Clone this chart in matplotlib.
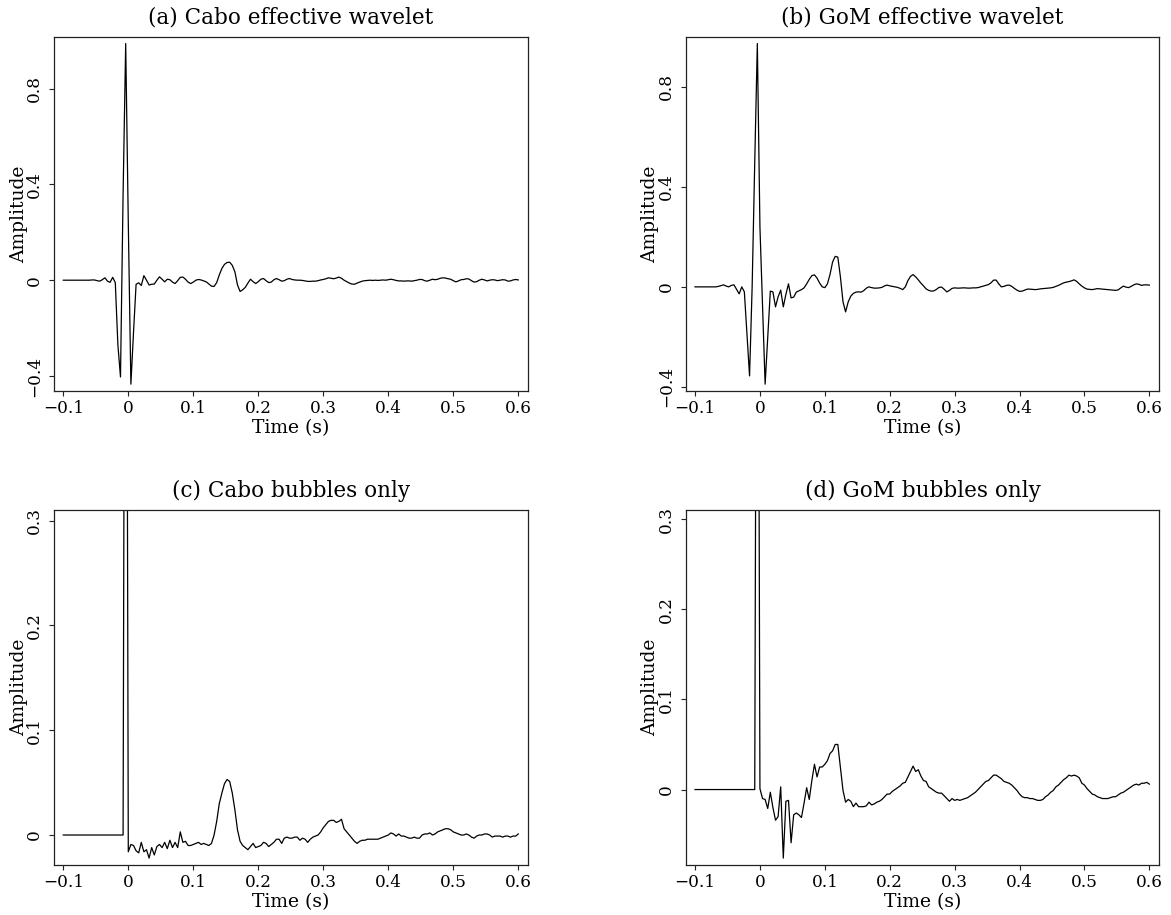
import numpy as np
import matplotlib
matplotlib.use('Agg')
import matplotlib.pyplot as plt
from matplotlib.ticker import FixedLocator, FuncFormatter

# time axis: 4 ms samples from -0.1 s to 0.6 s (176 samples)
time = np.round(np.arange(176) * 0.004 - 0.1, 3)

cabo_wavelet = [
    0.0, 0.0, 0.0, 0.0, 0.0, 0.0, 0.0, 0.0, 0.0, 0.0,
    0.0, 0.001, 0.001, -0.002, -0.004, 0.002, 0.010, -0.004, -0.009, 0.012,
    -0.010, -0.270, -0.404, 0.360, 0.988, 0.240, -0.434, -0.220, -0.017, -0.011,
    -0.022, 0.019, 0.000, -0.020, -0.017, -0.016, 0.000, 0.014, 0.004, -0.007,
    0.004, 0.002, -0.008, -0.014, -0.002, 0.012, 0.013, 0.004, -0.008, -0.014,
    -0.008, 0.000, 0.003, 0.001, -0.003, -0.007, -0.016, -0.025, -0.026, -0.010,
    0.022, 0.049, 0.066, 0.074, 0.075, 0.062, 0.035, -0.020, -0.047, -0.040,
    -0.030, -0.012, 0.004, -0.006, -0.014, -0.006, 0.004, 0.007, -0.002, -0.010,
    -0.008, 0.002, 0.007, 0.002, -0.004, -0.002, 0.004, 0.007, 0.003, 0.001,
    0.000, 0.000, -0.001, -0.003, -0.005, -0.005, -0.004, -0.004, -0.002, 0.001,
    0.003, 0.006, 0.010, 0.008, 0.006, 0.009, 0.013, 0.008, 0.000, -0.006,
    -0.012, -0.016, -0.017, -0.012, -0.008, -0.004, -0.002, -0.001, 0.000, -0.001,
    0.000, -0.001, 0.000, 0.001, 0.000, 0.002, 0.004, 0.002, -0.001, -0.003,
    -0.003, -0.004, -0.003, -0.003, -0.004, -0.002, 0.000, 0.003, 0.003, -0.002,
    -0.004, 0.000, 0.004, 0.002, 0.004, 0.008, 0.010, 0.009, 0.006, 0.004,
    -0.002, -0.007, -0.003, 0.002, 0.003, 0.006, 0.005, -0.002, -0.008, -0.006,
    0.000, 0.004, 0.001, -0.003, 0.000, 0.002, 0.001, -0.002, 0.000, 0.002,
    0.001, -0.004, -0.003, 0.001, 0.003, 0.001,
]

gom_wavelet = [
    0.0, 0.0, 0.0, 0.0, 0.0, 0.0, 0.0, 0.0, 0.0, 0.002,
    0.005, 0.008, 0.003, 0.000, 0.006, 0.008, -0.010, -0.028, 0.000, -0.020,
    -0.190, -0.356, 0.000, 0.500, 0.973, 0.240, -0.070, -0.389, -0.200, -0.017,
    -0.020, -0.080, -0.040, -0.013, -0.080, -0.030, 0.012, -0.044, -0.041, -0.021,
    -0.016, -0.011, -0.004, 0.012, 0.030, 0.045, 0.048, 0.035, 0.015, 0.000,
    -0.003, 0.012, 0.050, 0.100, 0.122, 0.119, 0.040, -0.060, -0.100, -0.060,
    -0.037, -0.026, -0.021, -0.020, -0.021, -0.015, -0.005, 0.000, -0.003, -0.005,
    -0.005, -0.004, -0.002, 0.004, 0.007, 0.004, 0.002, 0.000, -0.002, -0.006,
    -0.011, 0.000, 0.025, 0.042, 0.049, 0.040, 0.028, 0.015, 0.004, -0.008,
    -0.014, -0.017, -0.016, -0.010, -0.002, -0.001, -0.010, -0.020, -0.014, -0.006,
    -0.004, -0.005, -0.005, -0.004, -0.004, -0.005, -0.005, -0.004, -0.004, -0.003,
    0.000, 0.003, 0.006, 0.009, 0.016, 0.027, 0.027, 0.012, 0.000, 0.002,
    0.006, 0.007, 0.002, -0.006, -0.013, -0.018, -0.017, -0.013, -0.009, -0.009,
    -0.010, -0.011, -0.010, -0.008, -0.007, -0.006, -0.005, -0.004, -0.002, 0.002,
    0.006, 0.011, 0.016, 0.019, 0.021, 0.024, 0.028, 0.022, 0.012, 0.003,
    -0.004, -0.009, -0.010, -0.011, -0.009, -0.007, -0.008, -0.009, -0.010, -0.011,
    -0.012, -0.013, -0.014, -0.012, -0.004, 0.003, -0.001, -0.003, 0.002, 0.008,
    0.012, 0.010, 0.006, 0.008, 0.008, 0.007,
]

cabo_bubbles = [
    0.0, 0.0, 0.0, 0.0, 0.0, 0.0, 0.0, 0.0, 0.0, 0.0,
    0.0, 0.0, 0.0, 0.0, 0.0, 0.0, 0.0, 0.0, 0.0, 0.0,
    0.0, 0.0, 0.0, 0.0, 1.0, -0.016, -0.009, -0.010, -0.015, -0.017,
    -0.007, -0.016, -0.014, -0.022, -0.012, -0.019, -0.011, -0.009, -0.012, -0.007,
    -0.013, -0.005, -0.012, -0.007, -0.012, 0.003, -0.007, -0.006, -0.010, -0.010,
    -0.009, -0.008, -0.007, -0.009, -0.008, -0.009, -0.010, -0.008, 0.000, 0.013,
    0.030, 0.040, 0.049, 0.053, 0.051, 0.040, 0.024, 0.005, -0.006, -0.010,
    -0.012, -0.014, -0.011, -0.008, -0.012, -0.011, -0.010, -0.007, -0.008, -0.011,
    -0.009, -0.007, -0.004, -0.004, -0.008, -0.003, -0.002, -0.003, -0.003, -0.002,
    -0.002, -0.005, -0.003, -0.004, -0.007, -0.004, -0.002, -0.001, 0.000, 0.003,
    0.007, 0.010, 0.013, 0.014, 0.014, 0.012, 0.013, 0.015, 0.006, 0.003,
    0.000, -0.003, -0.006, -0.008, -0.006, -0.005, -0.005, -0.004, -0.004, -0.004,
    -0.004, -0.004, -0.003, -0.002, -0.001, 0.000, 0.002, 0.001, -0.001, 0.001,
    -0.001, -0.001, -0.002, -0.003, -0.003, -0.002, -0.003, -0.003, 0.000, 0.001,
    0.001, 0.002, 0.000, 0.001, 0.003, 0.004, 0.005, 0.006, 0.006, 0.005,
    0.003, 0.002, 0.001, 0.000, 0.000, 0.001, 0.000, -0.002, -0.003, -0.001,
    0.000, 0.000, 0.001, 0.001, 0.000, -0.002, -0.001, -0.001, -0.001, -0.002,
    -0.001, -0.001, -0.002, -0.001, -0.001, 0.001,
]

gom_bubbles = [
    0.0, 0.0, 0.0, 0.0, 0.0, 0.0, 0.0, 0.0, 0.0, 0.0,
    0.0, 0.0, 0.0, 0.0, 0.0, 0.0, 0.0, 0.0, 0.0, 0.0,
    0.0, 0.0, 0.0, 0.0, 1.0, 0.001, -0.010, -0.011, -0.021, -0.003,
    -0.020, -0.034, -0.030, 0.003, -0.076, -0.013, -0.012, -0.059, -0.028, -0.026,
    -0.028, -0.031, -0.015, 0.002, -0.011, 0.010, 0.028, 0.014, 0.025, 0.025,
    0.028, 0.032, 0.040, 0.043, 0.050, 0.050, 0.025, -0.001, -0.014, -0.011,
    -0.013, -0.019, -0.015, -0.019, -0.019, -0.019, -0.018, -0.014, -0.017, -0.016,
    -0.014, -0.013, -0.011, -0.008, -0.005, -0.005, -0.002, 0.000, 0.002, 0.004,
    0.007, 0.008, 0.014, 0.020, 0.026, 0.020, 0.022, 0.015, 0.010, 0.009,
    0.003, 0.001, -0.001, -0.003, -0.004, -0.004, -0.007, -0.010, -0.013, -0.010,
    -0.012, -0.011, -0.012, -0.011, -0.010, -0.009, -0.007, -0.005, -0.003, 0.000,
    0.003, 0.006, 0.009, 0.010, 0.013, 0.016, 0.016, 0.014, 0.012, 0.009,
    0.008, 0.007, 0.005, 0.002, -0.001, -0.005, -0.008, -0.009, -0.009, -0.010,
    -0.010, -0.011, -0.012, -0.012, -0.011, -0.008, -0.006, -0.003, -0.001, 0.003,
    0.005, 0.008, 0.011, 0.013, 0.016, 0.015, 0.016, 0.015, 0.013, 0.007,
    0.005, 0.001, -0.002, -0.005, -0.006, -0.008, -0.009, -0.010, -0.010, -0.010,
    -0.009, -0.008, -0.008, -0.006, -0.004, -0.003, -0.001, 0.001, 0.003, 0.005,
    0.006, 0.005, 0.007, 0.007, 0.008, 0.006,
]

x_ticks = [-0.1, 0.0, 0.1, 0.2, 0.3, 0.4, 0.5, 0.6]
wavelet_ticks = [-0.4, 0.0, 0.4, 0.8]
bubble_ticks = [0.0, 0.1, 0.2, 0.3]
bubble_clip = 0.31

plt.rcParams['font.family'] = ['DejaVu Serif']


def tick_text(v, pos):
    if abs(v) < 1e-9:
        return '0'
    return ('%g' % v).replace('-', '\u2212')


def draw_panel(ax, values, title, yticks, ytop=None):
    ax.plot(time, values, color='black', lw=0.9)

    lo = min(values)
    hi = max(values) if ytop is None else ytop
    pad = 0.02 * (hi - lo)
    ax.set_ylim(lo - pad, hi + (pad if ytop is None else 0.0))
    ax.set_xlim(-0.1145, 0.6155)

    ax.xaxis.set_major_locator(FixedLocator(x_ticks))
    ax.yaxis.set_major_locator(FixedLocator(yticks))
    ax.xaxis.set_major_formatter(FuncFormatter(tick_text))
    ax.yaxis.set_major_formatter(FuncFormatter(tick_text))
    ax.tick_params(direction='out', length=3.6, width=0.8, labelsize=12.2,
                   color='#222222', pad=3)
    ax.tick_params(axis='y', pad=4)
    for lab in ax.get_yticklabels():
        lab.set_rotation(90)
        lab.set_va('center')
        lab.set_ha('right')
    for sp in ax.spines.values():
        sp.set_color('#222222')
        sp.set_linewidth(0.9)

    ax.set_title(title, fontsize=15.5, y=1.054, va='center', pad=0)
    ax.set_xlabel('Time (s)', fontsize=13.5, va='center')
    ax.xaxis.set_label_coords(0.5, -0.104)
    ax.set_ylabel('Amplitude', fontsize=13.5, va='center')
    ax.yaxis.set_label_coords(-0.074, 0.5)


fig = plt.figure(figsize=(11.71, 9.15), dpi=100)
ax_a = fig.add_axes([0.0460, 0.5727, 0.4052, 0.3872])
ax_b = fig.add_axes([0.5855, 0.5727, 0.4046, 0.3872])
ax_c = fig.add_axes([0.0460, 0.0546, 0.4052, 0.3880])
ax_d = fig.add_axes([0.5855, 0.0546, 0.4046, 0.3880])

draw_panel(ax_a, cabo_wavelet, '(a) Cabo effective wavelet', wavelet_ticks)
draw_panel(ax_b, gom_wavelet, '(b) GoM effective wavelet', wavelet_ticks)
draw_panel(ax_c, cabo_bubbles, '(c) Cabo bubbles only', bubble_ticks, bubble_clip)
draw_panel(ax_d, gom_bubbles, '(d) GoM bubbles only', bubble_ticks, bubble_clip)

fig.savefig('out.png', dpi=100)
